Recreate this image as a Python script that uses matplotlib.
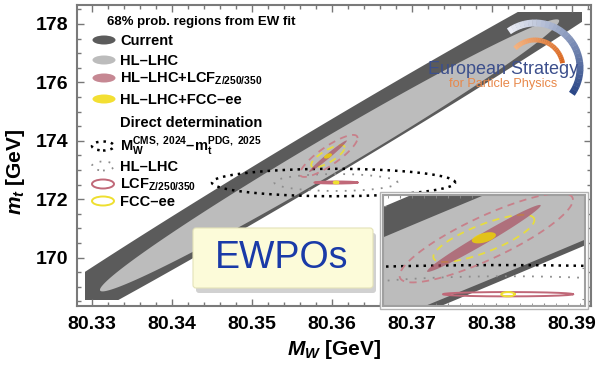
import numpy as np
import matplotlib.pyplot as plt
from matplotlib.patches import Ellipse, Rectangle, Arc, FancyBboxPatch
from matplotlib.ticker import FixedLocator, MultipleLocator, FormatStrFormatter

plt.rcParams['font.family'] = 'Liberation Sans'
plt.rcParams['font.weight'] = 'bold'
plt.rcParams['axes.labelweight'] = 'bold'
plt.rcParams['mathtext.fontset'] = 'custom'
plt.rcParams['mathtext.rm'] = 'Liberation Sans:bold'
plt.rcParams['mathtext.it'] = 'Liberation Sans:italic:bold'
plt.rcParams['mathtext.bf'] = 'Liberation Sans:bold'

# 68% regions from the EW fit: centre, half-width of the contour in MW and mt, correlation
fit_labels = ['Current', 'HL–LHC', r'HL–LHC+LCF$_\mathrm{Z/250/350}$', 'HL–LHC+FCC–ee']
fit_mw = [80.3594, 80.3597, 80.3595, 80.3595]
fit_mt = [173.65, 173.50, 173.47, 173.48]
fit_dmw = [0.050, 0.0287, 0.00236, 0.0005]
fit_dmt = [8.21, 4.66, 0.54, 0.09]
fit_rho = [0.9926, 0.9887, 0.983, 0.5]

# dashed contours around the centre (LCF, FCC-ee), no legend entry
alt_mw = [80.3596, 80.3595]
alt_mt = [173.48, 173.47]
alt_dmw = [0.0036, 0.0021]
alt_dmt = [0.72, 0.38]
alt_rho = [0.85, 0.78]

# direct determinations
dir_labels = [r'M$_\mathrm{W}^\mathrm{CMS,\ 2024}$–m$_\mathrm{t}^\mathrm{PDG,\ 2025}$',
              'HL–LHC', r'LCF$_\mathrm{Z/250/350}$', 'FCC–ee']
dir_mw = [80.3602, 80.3605, 80.3605, 80.3605]
dir_mt = [172.57, 172.57, 172.57, 172.57]
dir_dmw = [0.0152, 0.0077, 0.0027, 0.00028]
dir_dmt = [0.47, 0.29, 0.035, 0.035]

mw_ticks = [80.33, 80.34, 80.35, 80.36, 80.37, 80.38, 80.39]
mt_ticks = [170, 172, 174, 176, 178]

# plotted range of the fit regions
region_mw = (80.3291, 80.3913)
region_mt = (168.55, 178.41)

fit_col = ['#5b5b5b', '#bcbcbc', '#a8485a', '#f0d800']
fit_alpha = [1, 1, 0.65, 0.8]
alt_col = ['#c8808a', '#e6dc40']
dir_col = ['black', '#8c8c8c', '#c06878', '#eedf30']
dir_ls = [(0, (1, 2)), (0, (1, 4)), '-', '-']
dir_lw = [1.8, 1.3, 1.4, 1.4]


def contour(mw, mt, dmw, dmt, rho, n=400):
    t = np.linspace(0, 2 * np.pi, n)
    x = mw + dmw * np.cos(t)
    y = mt + dmt * (rho * np.cos(t) + np.sqrt(1 - rho ** 2) * np.sin(t))
    return x, y


def draw(a, clip=False):
    for i in range(2):
        x, y = contour(fit_mw[i], fit_mt[i], fit_dmw[i], fit_dmt[i], fit_rho[i])
        p = a.fill(x, y, color=fit_col[i], lw=0, zorder=1 + i)[0]
        if clip:
            r = Rectangle((region_mw[0], region_mt[0]), region_mw[1] - region_mw[0],
                          region_mt[1] - region_mt[0], transform=a.transData)
            p.set_clip_path(r)
    for i in range(2):
        x, y = contour(dir_mw[i], dir_mt[i], dir_dmw[i], dir_dmt[i], 0)
        a.plot(x, y, color=dir_col[i], ls=dir_ls[i], lw=dir_lw[i], zorder=3)
    for i in range(2):
        x, y = contour(alt_mw[i], alt_mt[i], alt_dmw[i], alt_dmt[i], alt_rho[i])
        a.plot(x, y, color=alt_col[i], ls=(0, (4, 3)), lw=1.3, zorder=4)
    for i in range(2, 4):
        x, y = contour(fit_mw[i], fit_mt[i], fit_dmw[i], fit_dmt[i], fit_rho[i])
        a.fill(x, y, color=fit_col[i], alpha=fit_alpha[i], lw=0, zorder=3 + i)
    for i in range(2, 4):
        x, y = contour(dir_mw[i], dir_mt[i], dir_dmw[i], dir_dmt[i], 0)
        a.plot(x, y, color=dir_col[i], ls=dir_ls[i], lw=dir_lw[i], zorder=8)


W, H = 605, 368
fig = plt.figure(figsize=(W / 100, H / 100), dpi=100)


def fx(x):
    return x / W


def fy(y):
    return 1 - y / H


ax = fig.add_axes([fx(77), fy(306), 514 / W, 301 / H])
draw(ax, clip=True)
ax.set_xlim(80.32813, 80.39238)
ax.set_ylim(168.34, 178.65)
ax.xaxis.set_major_locator(FixedLocator(mw_ticks))
ax.yaxis.set_major_locator(FixedLocator(mt_ticks))
ax.xaxis.set_major_formatter(FormatStrFormatter('%.2f'))
ax.xaxis.set_minor_locator(MultipleLocator(0.002))
ax.yaxis.set_minor_locator(MultipleLocator(0.5))
ax.tick_params(which='both', direction='in', top=True, right=True, color='#777777', width=1)
ax.tick_params(which='major', length=5, labelsize=14)
ax.tick_params(which='minor', length=3)
ax.tick_params(axis='x', pad=7)
ax.tick_params(axis='y', pad=6)
for s in ax.spines.values():
    s.set_color('#7a7a7a')
    s.set_linewidth(1.5)
ax.set_xlabel(r'$M_W$ [GeV]', fontsize=15)
ax.set_ylabel(r'$m_t$ [GeV]', fontsize=15)
ax.yaxis.set_label_coords(-0.098, 0.445)

# inset (zoom on the centre)
fig.add_artist(Rectangle((fx(380), fy(309)), 208 / W, 117 / H, transform=fig.transFigure,
                         facecolor='white', edgecolor='#b4b4b4', lw=1, zorder=1))
ins = fig.add_axes([fx(383), fy(306), 202 / W, 111 / H])
ins.set_zorder(2)
draw(ins)
ins.set_xlim(80.35531, 80.36370)
ins.set_ylim(172.38, 174.17)
ins.xaxis.set_minor_locator(MultipleLocator(0.0005))
ins.xaxis.set_major_locator(MultipleLocator(0.002))
ins.yaxis.set_major_locator(MultipleLocator(0.5))
ins.tick_params(which='both', direction='in', labelbottom=False, labelleft=False,
                top=True, right=True, color='#888888', length=2.5)
for s in ins.spines.values():
    s.set_color('#a0a0a0')
    s.set_linewidth(1.5)

# legend
fig.text(fx(107), fy(24.5), '68% prob. regions from EW fit', fontsize=9.5, va='baseline')
fit_rows = [40, 60, 78, 99]
for i in range(4):
    fig.add_artist(Ellipse((fx(104), fy(fit_rows[i])), 23 / W, 9 / H, transform=fig.transFigure,
                           facecolor=fit_col[i], alpha=fit_alpha[i], lw=0, zorder=3))
    fig.text(fx(120), fy(fit_rows[i] + 5), fit_labels[i], fontsize=10.5, va='baseline', zorder=3)
fig.text(fx(120), fy(127), 'Direct determination', fontsize=10.5, va='baseline')
dir_rows = [146, 166, 184, 201]
for i in range(4):
    fig.add_artist(Ellipse((fx(103), fy(dir_rows[i])), 22 / W, 9 / H, transform=fig.transFigure,
                           facecolor='none', edgecolor=dir_col[i], ls=dir_ls[i],
                           lw=dir_lw[i], zorder=3))
    fig.text(fx(120), fy(dir_rows[i] + 5), dir_labels[i], fontsize=10.5, va='baseline', zorder=3)

# European Strategy logo
tr = fig.dpi_scale_trans
n = 30
ang = np.linspace(-35, 125, n + 1)
blue0 = np.array([0.17, 0.28, 0.53])
blue1 = np.array([0.92, 0.93, 0.96])
for k in range(n):
    c = blue0 + (blue1 - blue0) * k / (n - 1)
    fig.add_artist(Arc((5.35, (H - 68) / 100), 0.90, 0.90, theta1=ang[k], theta2=ang[k + 1] + 0.5,
                       transform=tr, color=c, lw=5, zorder=3))
ang = np.linspace(10, 135, n + 1)
or0 = np.array([0.85, 0.40, 0.12])
or1 = np.array([0.96, 0.70, 0.50])
for k in range(n):
    c = or0 + (or1 - or0) * k / (n - 1)
    fig.add_artist(Arc((5.35, (H - 68) / 100), 0.56, 0.56, theta1=ang[k], theta2=ang[k + 1] + 0.5,
                       transform=tr, color=c, lw=3.5, zorder=3))
fig.text(fx(503), fy(69), 'European Strategy', fontsize=13, fontweight='normal',
         color='#3c4f8c', ha='center', va='center', zorder=4)
fig.text(fx(503), fy(84), 'for Particle Physics', fontsize=9.2, fontweight='normal',
         color='#e8884a', ha='center', va='center', zorder=4)

# EWPOs box
fig.add_artist(FancyBboxPatch((1.96, (H - 293) / 100), 1.80, 0.60,
                              boxstyle='round,pad=0,rounding_size=0.03', transform=tr,
                              facecolor='#9a9a9a', edgecolor='none', alpha=0.45, zorder=3))
fig.add_artist(FancyBboxPatch((1.93, (H - 288) / 100), 1.80, 0.60,
                              boxstyle='round,pad=0,rounding_size=0.03', transform=tr,
                              facecolor='#fcfbd9', edgecolor='#e4e2b8', lw=0.8, zorder=3))
fig.text(fx(282), fy(258), 'EWPOs', fontsize=27, fontweight='normal', color='#1a3aa8',
         ha='center', va='center', zorder=4)

fig.savefig('out.png', dpi=100)
